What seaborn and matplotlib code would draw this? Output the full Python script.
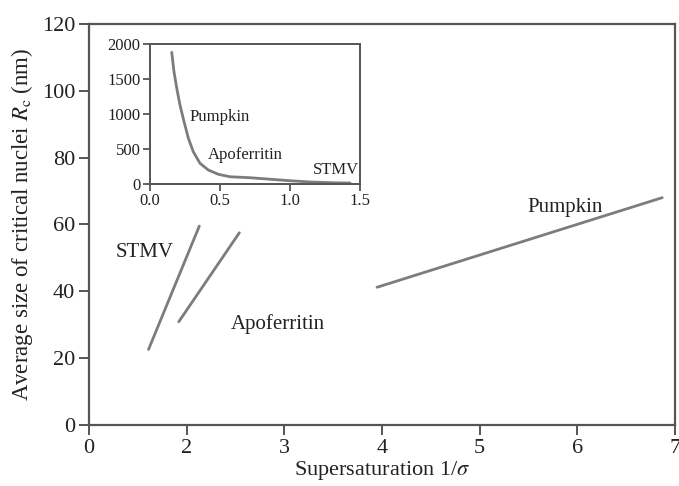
import matplotlib
matplotlib.use("Agg")
import matplotlib.pyplot as plt
import seaborn as sns
import pandas as pd

# Linear fits of critical nucleus size vs supersaturation (axis position units;
# the first tick, labelled "0", sits at position 1 because of the axis break)
stmv_x = [1.61, 2.13]
stmv_y = [22.6, 59.5]
apo_x = [1.92, 2.54]
apo_y = [30.9, 57.5]
pumpkin_x = [3.95, 6.87]
pumpkin_y = [41.2, 68.0]

x_tick_pos = [1, 2, 3, 4, 5, 6, 7]
x_tick_labels = ["0", "2", "3", "4", "5", "6", "7"]
y_ticks = [0, 20, 40, 60, 80, 100, 120]

# Inset: size vs sigma
inset_x = [0.155, 0.171, 0.191, 0.214, 0.243, 0.274, 0.309, 0.357, 0.416,
           0.488, 0.571, 0.714, 0.834, 1.0, 1.143, 1.31, 1.43]
inset_y = [1881, 1603, 1365, 1125, 886, 648, 456, 290, 194,
           132, 97, 83, 65, 40, 22, 11, 7]
inset_x_ticks = [0.0, 0.5, 1.0, 1.5]
inset_y_ticks = [0, 500, 1000, 1500, 2000]

sns.set_theme(style="white")
plt.rcParams["font.family"] = ["Liberation Serif", "DejaVu Serif"]
plt.rcParams["mathtext.fontset"] = "stix"

line_color = "#7c7c7c"
spine_color = "#555555"
text_color = "#222222"

fig = plt.figure(figsize=(6.79, 4.86), dpi=100)
ax = fig.add_axes([0.131, 0.1255, 0.863, 0.8255])

lines = pd.DataFrame({
    "x": stmv_x + apo_x + pumpkin_x,
    "y": stmv_y + apo_y + pumpkin_y,
    "protein": ["STMV"] * 2 + ["Apoferritin"] * 2 + ["Pumpkin"] * 2,
})
sns.lineplot(data=lines, x="x", y="y", units="protein", estimator=None,
             color=line_color, linewidth=2.0, ax=ax, legend=False,
             solid_capstyle="round")

ax.set_xlim(1, 7)
ax.set_ylim(0, 120)
ax.set_xticks(x_tick_pos)
ax.set_xticklabels(x_tick_labels)
ax.set_yticks(y_ticks)
ax.tick_params(axis="both", direction="out", length=7, width=1.4,
               color=spine_color, labelsize=16, labelcolor=text_color,
               bottom=True, left=True, pad=3)
for s in ax.spines.values():
    s.set_color(spine_color)
    s.set_linewidth(1.6)
ax.set_xlabel(r"Supersaturation 1/$\sigma$", fontsize=16, color=text_color,
              labelpad=1)
ax.set_ylabel(r"Average size of critical nuclei $R_{\mathrm{c}}$ (nm)",
              fontsize=16.5, color=text_color, labelpad=5)

ax.text(1.573, 51.5, "STMV", fontsize=15, ha="center", va="center",
        color=text_color)
ax.text(2.935, 30.2, "Apoferritin", fontsize=15, ha="center", va="center",
        color=text_color)
ax.text(5.87, 65.2, "Pumpkin", fontsize=15, ha="center", va="center",
        color=text_color)

# Inset axes
ins = fig.add_axes([0.221, 0.6224, 0.309, 0.2871])
inset_df = pd.DataFrame({"x": inset_x, "y": inset_y})
sns.lineplot(data=inset_df, x="x", y="y", color=line_color, linewidth=2.0,
             ax=ins, legend=False, solid_joinstyle="round",
             solid_capstyle="round")
ins.set_xlim(0, 1.5)
ins.set_ylim(0, 2000)
ins.set_xticks(inset_x_ticks)
ins.set_xticklabels(["0.0", "0.5", "1.0", "1.5"])
ins.set_yticks(inset_y_ticks)
ins.set_xlabel("")
ins.set_ylabel("")
ins.tick_params(axis="both", direction="out", length=5, width=1.3,
                color=spine_color, labelsize=12, labelcolor=text_color,
                bottom=True, left=True, pad=2)
for s in ins.spines.values():
    s.set_color(spine_color)
    s.set_linewidth(1.4)
ins.text(0.5, 960, "Pumpkin", fontsize=12, ha="center", va="center",
         color=text_color)
ins.text(0.68, 410, "Apoferritin", fontsize=12, ha="center", va="center",
         color=text_color)
ins.text(1.33, 190, "STMV", fontsize=12, ha="center", va="center",
         color=text_color)

fig.savefig("out.png", dpi=100)
